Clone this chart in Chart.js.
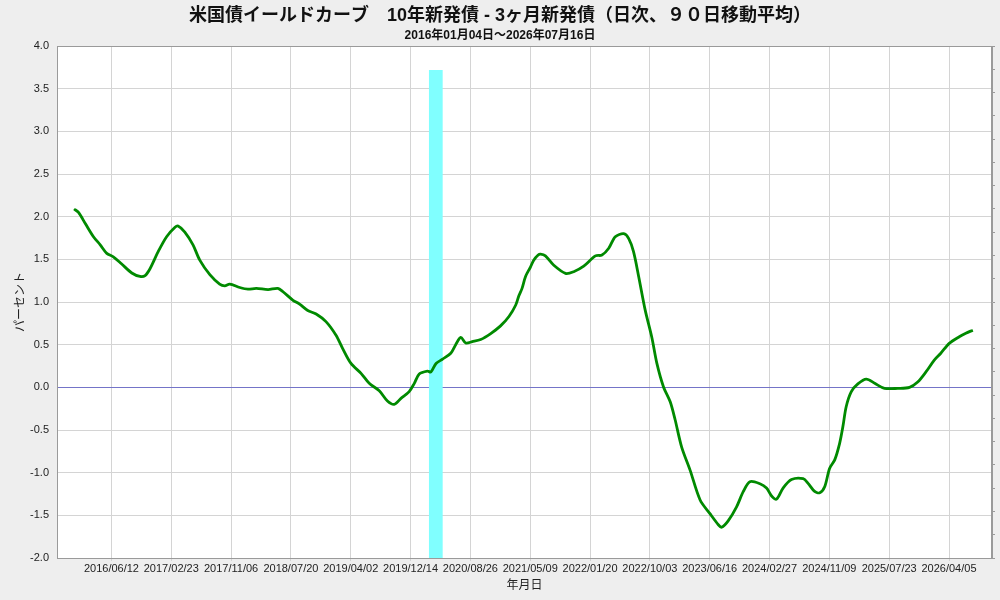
<!DOCTYPE html>
<html lang="ja">
<head>
<meta charset="utf-8">
<title>米国債イールドカーブ</title>
<script src="https://cdn.jsdelivr.net/npm/chart.js@4.4.1/dist/chart.umd.min.js"></script>
<style>
    html, body { margin: 0; padding: 0; background: #eeeeee; }
    #wrap { width: 1000px; height: 600px; }
</style>
</head>
<body>
<div id="wrap"><canvas id="yieldChart" width="1000" height="600"></canvas></div>
<script>
// 10年新発債 - 3ヶ月新発債 (90日移動平均)
const spreadDates = [
    '2016-01-04', '2016-01-23', '2016-02-21', '2016-03-27', '2016-04-25', '2016-05-23', '2016-06-20', '2016-07-26',
    '2016-09-07', '2016-10-12', '2016-11-03', '2016-11-24', '2016-12-29', '2017-02-03', '2017-03-11', '2017-03-24',
    '2017-04-22', '2017-05-27', '2017-06-25', '2017-08-07', '2017-09-18', '2017-10-10', '2017-10-31', '2017-12-13',
    '2018-01-17', '2018-02-22', '2018-04-13', '2018-05-25', '2018-06-16', '2018-07-29', '2018-08-26', '2018-09-30',
    '2018-11-05', '2018-12-17', '2019-01-29', '2019-02-26', '2019-04-03', '2019-05-16', '2019-06-20', '2019-08-02',
    '2019-09-06', '2019-10-05', '2019-11-03', '2019-12-08', '2019-12-30', '2020-01-20', '2020-02-24', '2020-03-10',
    '2020-04-01', '2020-04-29', '2020-06-03', '2020-06-24', '2020-07-16', '2020-08-06', '2020-09-03', '2020-10-09',
    '2020-11-21', '2021-01-02', '2021-02-07', '2021-03-08', '2021-03-21', '2021-04-04', '2021-04-19', '2021-05-10',
    '2021-05-24', '2021-06-12', '2021-06-22', '2021-07-13', '2021-08-18', '2021-10-07', '2021-11-11', '2021-12-24',
    '2022-02-12', '2022-03-12', '2022-04-10', '2022-05-08', '2022-06-13', '2022-07-04', '2022-07-25', '2022-08-16',
    '2022-09-13', '2022-10-11', '2022-11-02', '2022-11-30', '2022-12-29', '2023-01-19', '2023-02-16', '2023-03-24',
    '2023-05-06', '2023-06-17', '2023-07-23', '2023-08-06', '2023-09-03', '2023-10-09', '2023-11-07', '2023-12-05',
    '2024-01-17', '2024-02-14', '2024-03-06', '2024-03-28', '2024-04-25', '2024-05-31', '2024-07-20', '2024-08-10',
    '2024-09-07', '2024-09-29', '2024-10-20', '2024-11-10', '2024-12-02', '2024-12-23', '2025-01-06', '2025-01-20',
    '2025-02-11', '2025-03-11', '2025-04-16', '2025-05-22', '2025-07-03', '2025-08-29', '2025-10-18', '2025-11-22',
    '2025-12-28', '2026-02-01', '2026-03-01', '2026-04-06', '2026-05-19', '2026-06-16', '2026-07-16'
];
const spreadValues = [
    2.09, 2.05, 1.92, 1.765, 1.67, 1.57, 1.53, 1.445,
    1.34, 1.30, 1.31, 1.39, 1.59, 1.765, 1.875, 1.89,
    1.82, 1.67, 1.49, 1.32, 1.21, 1.19, 1.21, 1.17,
    1.15, 1.16, 1.145, 1.16, 1.12, 1.02, 0.975, 0.90,
    0.86, 0.77, 0.61, 0.457, 0.28, 0.164, 0.047, -0.04,
    -0.16, -0.20, -0.13, -0.05, 0.047, 0.156, 0.19, 0.18,
    0.28, 0.33, 0.40, 0.50, 0.585, 0.52, 0.535, 0.56,
    0.63, 0.72, 0.83, 0.965, 1.07, 1.16, 1.30, 1.41,
    1.49, 1.55, 1.56, 1.54, 1.43, 1.335, 1.355, 1.42,
    1.54, 1.55, 1.63, 1.765, 1.80, 1.745, 1.59, 1.30,
    0.905, 0.59, 0.28, 0.007, -0.17, -0.38, -0.70, -0.97,
    -1.32, -1.48, -1.61, -1.64, -1.565, -1.40, -1.22, -1.106,
    -1.13, -1.18, -1.27, -1.31, -1.18, -1.08, -1.07, -1.125,
    -1.22, -1.235, -1.165, -0.95, -0.85, -0.656, -0.46, -0.227,
    -0.05, 0.04, 0.097, 0.047, -0.012, -0.012, 0.0, 0.062,
    0.183, 0.32, 0.40, 0.515, 0.593, 0.633, 0.67
];

// 景気後退期 (shaded band)
const recessionDates = ['2020-03-01', '2020-04-30'];
const recessionTop = 3.72;

// x axis tick labels (256 days apart)
const xTickLabels = [
    '2016/06/12', '2017/02/23', '2017/11/06', '2018/07/20', '2019/04/02', '2019/12/14', '2020/08/26', '2021/05/09',
    '2022/01/20', '2022/10/03', '2023/06/16', '2024/02/27', '2024/11/09', '2025/07/23', '2026/04/05'
];
const xRange = ['2015-10-23', '2026-10-06'];
const yRange = [-2.0, 4.0];

const FONT = "'Liberation Sans', 'Noto Sans CJK JP', sans-serif";

function toTime(s) {
    const p = s.split(/[-\/]/);
    return Date.UTC(+p[0], +p[1] - 1, +p[2]);
}

function pad(n) {
    return n < 10 ? '0' + n : '' + n;
}

function formatDate(t) {
    const d = new Date(t);
    return d.getUTCFullYear() + '/' + pad(d.getUTCMonth() + 1) + '/' + pad(d.getUTCDate());
}

const plotBackground = {
    id: 'plotBackground',
    beforeDraw(chart) {
        const { ctx, chartArea } = chart;
        ctx.save();
        ctx.fillStyle = '#eeeeee';
        ctx.fillRect(0, 0, chart.width, chart.height);
        ctx.fillStyle = '#ffffff';
        ctx.fillRect(chartArea.left, chartArea.top, chartArea.right - chartArea.left, chartArea.bottom - chartArea.top);
        ctx.restore();
    },
    afterDraw(chart) {
        const { ctx, chartArea } = chart;
        ctx.save();
        ctx.strokeStyle = '#9a9a9a';
        ctx.lineWidth = 1;
        ctx.strokeRect(chartArea.left + 0.5, chartArea.top + 0.5, chartArea.right - chartArea.left - 1, chartArea.bottom - chartArea.top);
        ctx.restore();
    }
};

const ctx = document.getElementById('yieldChart').getContext('2d');
const yieldChart = new Chart(ctx, {
    type: 'line',
    data: {
        datasets: [
            {
                label: '10年新発債 - 3ヶ月新発債',
                data: spreadDates.map((d, i) => ({ x: toTime(d), y: spreadValues[i] })),
                borderColor: '#008a00',
                borderWidth: 2.8,
                pointRadius: 0,
                tension: 0.3,
                fill: false,
                order: 1
            },
            {
                label: '景気後退期',
                data: recessionDates.map(d => ({ x: toTime(d), y: recessionTop })),
                borderWidth: 0,
                borderColor: 'rgba(0,0,0,0)',
                backgroundColor: '#80ffff',
                pointRadius: 0,
                fill: 'start',
                order: 2
            }
        ]
    },
    plugins: [plotBackground],
    options: {
        responsive: false,
        animation: false,
        devicePixelRatio: 1,
        layout: { padding: { left: 0, right: 0, top: 0, bottom: 0 } },
        plugins: {
            legend: { display: false },
            tooltip: { enabled: false },
            title: {
                display: true,
                text: '米国債イールドカーブ　10年新発債 - 3ヶ月新発債（日次、９０日移動平均）',
                color: '#111111',
                font: { family: FONT, size: 18, weight: 'bold' },
                padding: { top: 5, bottom: 2 }
            },
            subtitle: {
                display: true,
                text: '2016年01月04日～2026年07月16日',
                color: '#111111',
                font: { family: FONT, size: 12, weight: 'bold' },
                padding: { top: 0, bottom: 3 }
            }
        },
        scales: {
            x: {
                type: 'linear',
                position: 'bottom',
                min: toTime(xRange[0]),
                max: toTime(xRange[1]),
                afterBuildTicks: function (scale) {
                    scale.ticks = xTickLabels.map(s => ({ value: toTime(s) }));
                },
                afterFit: function (scale) {
                    scale.height = 42;
                },
                ticks: {
                    autoSkip: false,
                    maxRotation: 0,
                    padding: 1,
                    color: '#222222',
                    font: { family: FONT, size: 11 },
                    callback: function (value) {
                        return formatDate(value);
                    }
                },
                grid: {
                    color: '#d4d4d4',
                    tickLength: 3
                },
                border: { color: '#9a9a9a' },
                title: {
                    display: true,
                    text: '年月日',
                    color: '#222222',
                    font: { family: FONT, size: 12 },
                    padding: { top: 0, bottom: 7 }
                }
            },
            y: {
                position: 'left',
                min: yRange[0],
                max: yRange[1],
                afterFit: function (scale) {
                    scale.width = 57;
                },
                ticks: {
                    stepSize: 0.5,
                    padding: 8,
                    color: '#222222',
                    font: { family: FONT, size: 11 },
                    callback: function (value) {
                        return value.toFixed(1);
                    }
                },
                grid: {
                    drawTicks: false,
                    color: function (c) {
                        return c.tick && c.tick.value === 0 ? '#7474c8' : '#d4d4d4';
                    }
                },
                border: { color: '#9a9a9a' },
                title: {
                    display: true,
                    text: 'パーセント',
                    color: '#222222',
                    font: { family: FONT, size: 12 },
                    padding: { top: 13, bottom: 0 }
                }
            },
            y2: {
                position: 'right',
                min: 0,
                max: 22,
                afterFit: function (scale) {
                    scale.width = 8;
                },
                ticks: { display: false, stepSize: 1 },
                grid: {
                    drawOnChartArea: false,
                    tickLength: 3,
                    color: '#9a9a9a'
                },
                border: { color: '#9a9a9a' }
            }
        }
    }
});
</script>
</body>
</html>
